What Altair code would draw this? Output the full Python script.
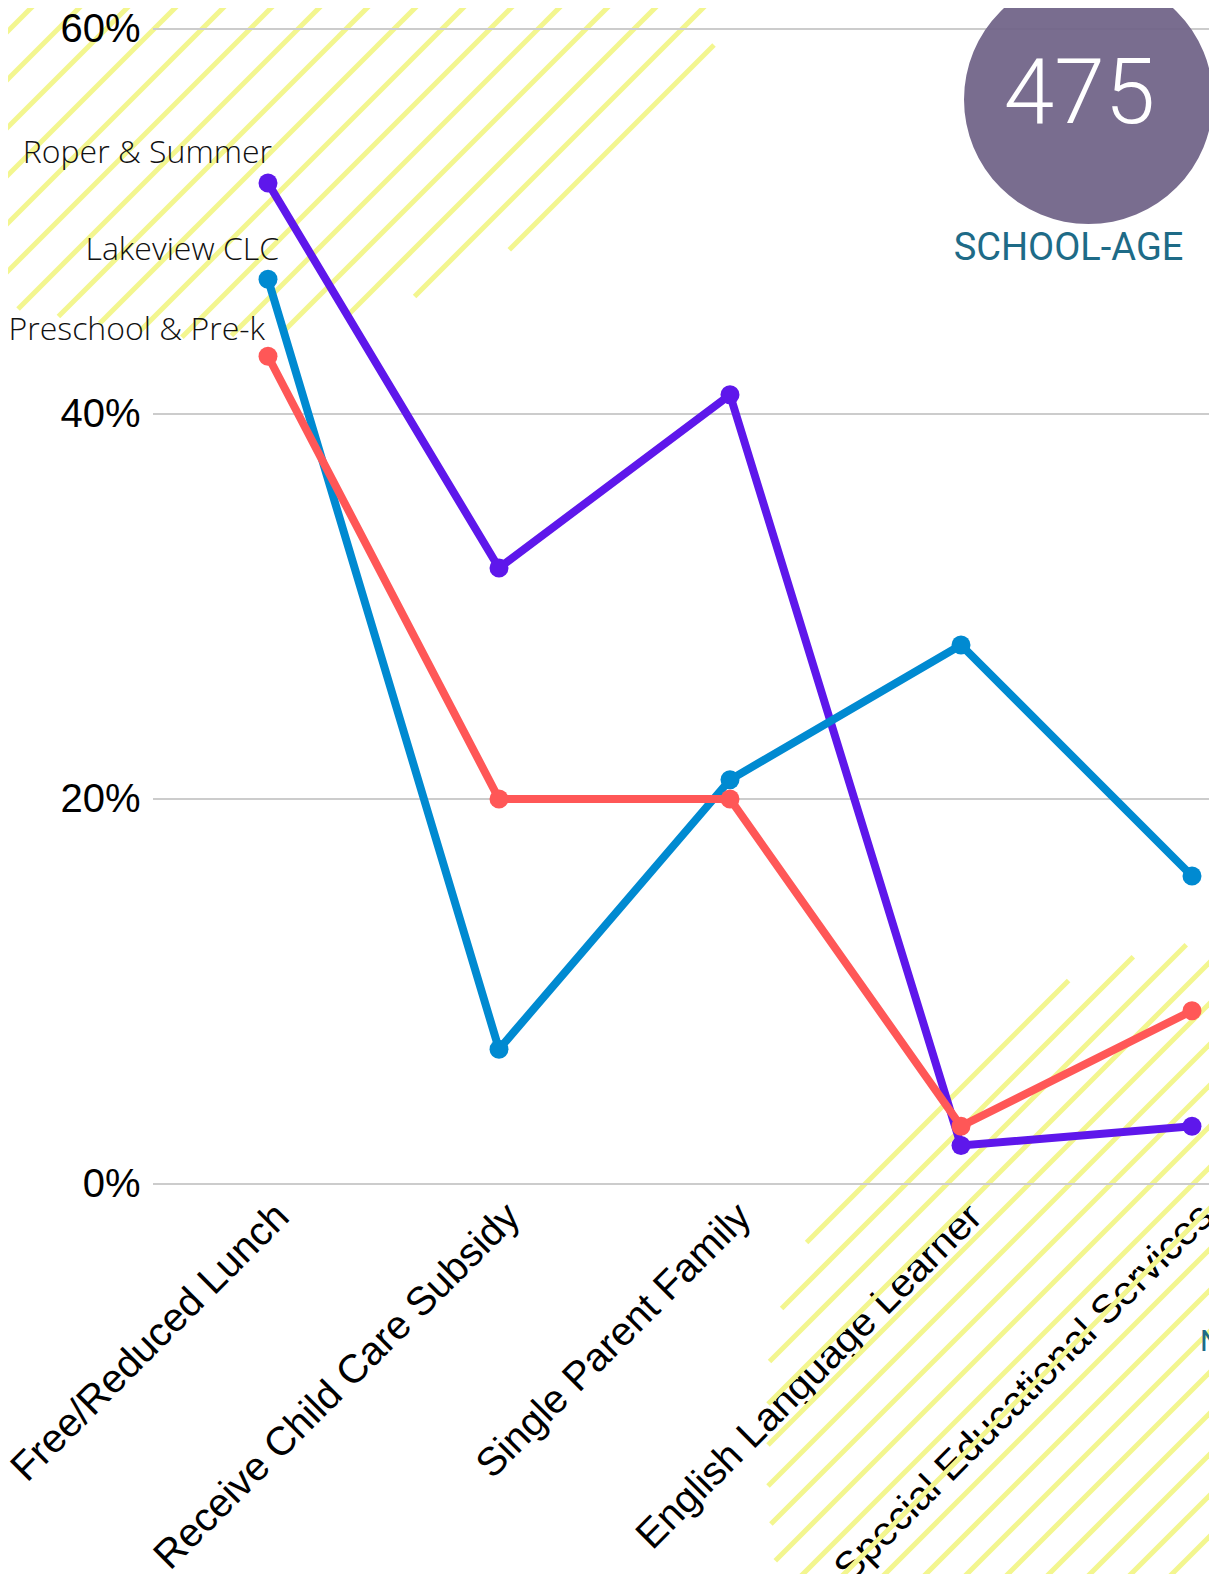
import math
import altair as alt
import pandas as pd

# ---------------- data ----------------
categories = ["Free/Reduced Lunch", "Receive Child Care Subsidy", "Single Parent Family",
              "English Language Learner", "Special Educational Services"]
series_names = ["Roper & Summer", "Lakeview CLC", "Preschool & Pre-k"]
roper = [0.52, 0.32, 0.41, 0.02, 0.03]
lakeview = [0.47, 0.07, 0.21, 0.28, 0.16]
preschool = [0.43, 0.20, 0.20, 0.03, 0.09]
series_values = [roper, lakeview, preschool]
y_ticks = [0, 0.2, 0.4, 0.6]
badge_number = "475"
badge_label = "SCHOOL-AGE"
edge_text = "N"

# ---------------- style ----------------
colors = ["#5E17EB", "#008AD1", "#FF5757"]
label_dx = [4, 11, -3]
label_dy = [-20, -19, -16]
HATCH = "#F3F68F"
W, H = 1056, 1155
LEFT, TOP = 145, 21
OX, OY = LEFT + 8, TOP + 8  # page position of plot origin

# decorative hatch regions (page pixel outlines)
tl_poly = [(0, 0), (738, 0), (706, 60), (680, 95), (528, 240), (426, 293), (296, 332),
           (187, 338), (19, 310), (0, 290)]
br_poly = [(837, 1180), (925, 1092), (1005, 1013), (1085, 972), (1145, 953), (1200, 942),
           (1217, 940), (1217, 1600), (780, 1600), (768, 1500), (768, 1369), (778, 1319),
           (798, 1260)]


def stripes(poly, c0, step):
    sums = [x + y for x, y in poly]
    cmin, cmax = min(sums), max(sums)
    k = math.ceil((cmin - c0) / step)
    c = c0 + k * step
    rows = []
    n = len(poly)
    while c <= cmax:
        pts = []
        for i in range(n):
            (x1, y1), (x2, y2) = poly[i], poly[(i + 1) % n]
            f1, f2 = x1 + y1 - c, x2 + y2 - c
            if (f1 < 0) != (f2 < 0):
                t = f1 / (f1 - f2)
                pts.append(x1 + t * (x2 - x1))
        pts.sort()
        for a, b in zip(pts[0::2], pts[1::2]):
            rows.append({"px": a, "py": c - a, "px2": b, "py2": c - b})
        c += step
    return pd.DataFrame(rows)


hx = alt.Scale(domain=[OX, OX + W], range=[0, W], nice=False, zero=False)
hy = alt.Scale(domain=[OY, OY + H], range=[0, H], nice=False, zero=False)


def hatch(df):
    return alt.Chart(df).mark_rule(color=HATCH, strokeWidth=5).encode(
        x=alt.X("px:Q", scale=hx, axis=None),
        y=alt.Y("py:Q", scale=hy, axis=None),
        x2="px2:Q",
        y2="py2:Q",
    )


hatch_tl = hatch(stripes(tl_poly, 39, 48))
hatch_br = hatch(stripes(br_poly, 2500, 41))

# ---------------- main chart ----------------
x_enc = alt.X(
    "cat:N",
    sort=categories,
    scale=alt.Scale(type="point", domain=categories, range=[115, 1039], padding=0),
    axis=alt.Axis(labelAngle=-45, labelFont="Liberation Sans", labelFontSize=40,
                  labelColor="black", labelLimit=2000, ticks=False, domain=False,
                  grid=False, title=None, labelPadding=12),
)
y_enc = alt.Y(
    "v:Q",
    scale=alt.Scale(domain=[0, 0.6], nice=False, zero=True),
    axis=alt.Axis(values=y_ticks, format=".0%", labelFont="Liberation Sans",
                  labelFontSize=40, labelColor="black", labelPadding=13, ticks=False,
                  domain=False, grid=False, title=None, zindex=1),
)

grid = alt.Chart(pd.DataFrame({"v": y_ticks})).mark_rule(color="#cccccc", strokeWidth=2).encode(
    y=y_enc
)

circle = alt.Chart(pd.DataFrame({"a": [0]})).mark_circle(
    size=62001, color="#6F6286", opacity=0.93
).encode(x=alt.value(935.5), y=alt.value(70.5))

badge = alt.Chart(pd.DataFrame({"t": [badge_number]})).mark_text(
    font="Roboto", fontWeight=300, fontSize=91, color="white", align="center", baseline="middle"
).encode(x=alt.value(926.5), y=alt.value(67), text="t:N")

badge_lab = alt.Chart(pd.DataFrame({"t": [badge_label]})).mark_text(
    font="Roboto", fontSize=38, color="#1E6B87", align="center", baseline="middle"
).encode(x=alt.value(915.5), y=alt.value(220), text="t:N")

edge = alt.Chart(pd.DataFrame({"t": [edge_text]})).mark_text(
    font="Roboto", fontSize=30, color="#1E6B87", align="left", baseline="middle"
).encode(x=alt.value(1047), y=alt.value(1313), text="t:N")

lines, points, labels = [], [], []
for name, vals, col, dx, dy in zip(series_names, series_values, colors, label_dx, label_dy):
    df = pd.DataFrame({"cat": categories, "v": vals, "s": name})
    lines.append(alt.Chart(df).mark_line(color=col, strokeWidth=8).encode(x=x_enc, y=y_enc))
    points.append(alt.Chart(df).mark_circle(color=col, size=360, opacity=1).encode(x=x_enc, y=y_enc))
    labels.append(
        alt.Chart(df.iloc[:1]).mark_text(
            font="Open Sans", fontWeight=300, fontSize=32, color="#111111",
            align="right", baseline="alphabetic", dx=dx, dy=dy
        ).encode(x=x_enc, y=y_enc, text="s:N")
    )

data_layer = alt.layer(grid, circle, badge, badge_lab, edge, *lines, *points, *labels)

chart = alt.layer(hatch_tl, hatch_br, data_layer).resolve_scale(
    x="independent", y="independent"
).properties(
    width=W,
    height=H,
    padding={"left": LEFT, "top": TOP, "right": 0, "bottom": 390},
    autosize=alt.AutoSizeParams(type="none"),
).configure_view(stroke=None)

chart.save("out.html", embed_options={"renderer": "svg", "actions": False})
